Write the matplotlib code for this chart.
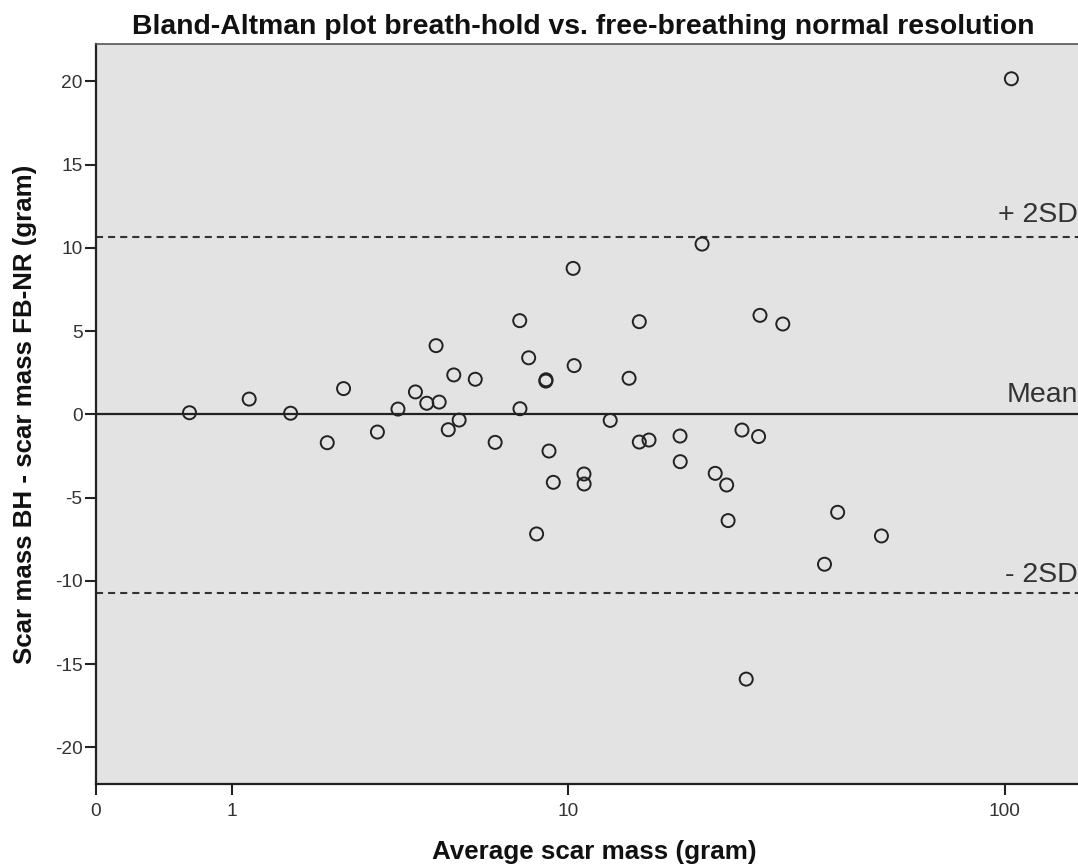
import matplotlib
import numpy as np
from matplotlib import pyplot as plt

matplotlib.use("Agg")

plt.rcParams["font.family"] = ["Liberation Sans", "DejaVu Sans"]

# average scar mass (gram) and difference BH - FB-NR (gram)
avg_mass = [
    0.61, 1.18, 1.69, 2.24, 2.52, 3.18, 3.64, 4.07, 4.37, 4.63,
    4.72, 4.99, 5.16, 5.33, 5.87, 6.60, 7.61, 7.62, 8.01, 8.38,
    8.83, 8.84, 8.99, 9.21, 10.29, 10.35, 10.93, 10.94, 12.63, 14.0,
    14.80, 14.80, 15.60, 18.43, 18.45, 20.73, 22.23, 23.62, 23.80, 25.61,
    26.19, 27.95, 28.16, 31.74, 39.46, 42.25, 53.02, 103.5,
]
diff_mass = [
    0.10, 0.92, 0.07, -1.70, 1.55, -1.06, 0.32, 1.35, 0.67, 4.13,
    0.74, -0.92, 2.37, -0.34, 2.11, -1.68, 5.63, 0.34, 3.40, -7.18,
    2.00, 2.08, -2.20, -4.08, 8.77, 2.93, -3.58, -4.18, -0.36, 2.17,
    5.57, -1.66, -1.54, -1.30, -2.84, 10.23, -3.54, -4.24, -6.38, -0.94,
    -15.9, -1.33, 5.95, 5.43, -9.00, -5.88, -7.30, 20.16,
]
mean_diff = 0.0
upper_limit = 10.68
lower_limit = -10.72
x_ticks = [0, 1, 10, 100]
y_ticks = [-20, -15, -10, -5, 0, 5, 10, 15, 20]

text_color = "#333333"

fig = plt.figure(figsize=(10.78, 8.66), dpi=100)
ax = fig.add_axes([95.7 / 1078, 1 - 784 / 866, 1 - 95.7 / 1078, (784 - 44.3) / 866])
ax.set_facecolor("#e3e3e3")

ax.set_xscale(
    "function",
    functions=(lambda v: np.log10(np.clip(v, 0, None) + 1), lambda v: 10 ** v - 1),
)
ax.set_xlim(0, 10 ** 2.166 - 1)
ax.set_ylim(-22.2, 22.23)

ax.axhline(mean_diff, color="#222222", linewidth=1.6, zorder=2)
for level in (upper_limit, lower_limit):
    ax.axhline(level, color="#333333", linewidth=1.5, linestyle=(0, (3.4, 2.4)), zorder=2)

ax.scatter(
    avg_mass,
    diff_mass,
    s=88,
    facecolors="none",
    edgecolors="#222222",
    linewidths=1.4,
    zorder=3,
    clip_on=False,
)

label_kw = dict(
    xycoords=("axes fraction", "data"),
    textcoords="offset points",
    ha="right",
    va="baseline",
    fontsize=20.5,
    color=text_color,
)
ax.annotate("+ 2SD", xy=(1.0, upper_limit), xytext=(0, 10.5), **label_kw)
ax.annotate("Mean", xy=(1.0, mean_diff), xytext=(0, 9), **label_kw)
ax.annotate("- 2SD", xy=(1.0, lower_limit), xytext=(0, 8), **label_kw)

ax.set_xticks(x_ticks)
ax.set_xticklabels([str(t) for t in x_ticks])
ax.set_yticks(y_ticks)
ax.set_yticklabels([str(t) for t in y_ticks])
ax.xaxis.set_minor_locator(matplotlib.ticker.NullLocator())
ax.tick_params(axis="both", direction="out", length=8, width=1.5, color="#222222",
               labelsize=13.8, labelcolor=text_color)
ax.tick_params(axis="x", pad=5.5)
ax.tick_params(axis="y", pad=1.5)

for side in ("left", "bottom"):
    ax.spines[side].set_color("#222222")
    ax.spines[side].set_linewidth(1.6)
ax.spines["top"].set_color("#555555")
ax.spines["top"].set_linewidth(1.2)
ax.spines["right"].set_visible(False)

fig.text(583 / 1078, 1 - 27 / 866,
         "Bland-Altman plot breath-hold vs. free-breathing normal resolution",
         ha="center", va="center", fontsize=20.4, fontweight="bold", color="#111111")
fig.text(25 / 1078, 1 - 414 / 866, "Scar mass BH - scar mass FB-NR (gram)",
         ha="center", va="center", rotation=90, fontsize=18.6, fontweight="bold", color="#111111")
fig.text(594 / 1078, 1 - 852 / 866, "Average scar mass (gram)",
         ha="center", va="center", fontsize=18.7, fontweight="bold", color="#111111")

fig.savefig("out.png", dpi=100)
plt.close(fig)
